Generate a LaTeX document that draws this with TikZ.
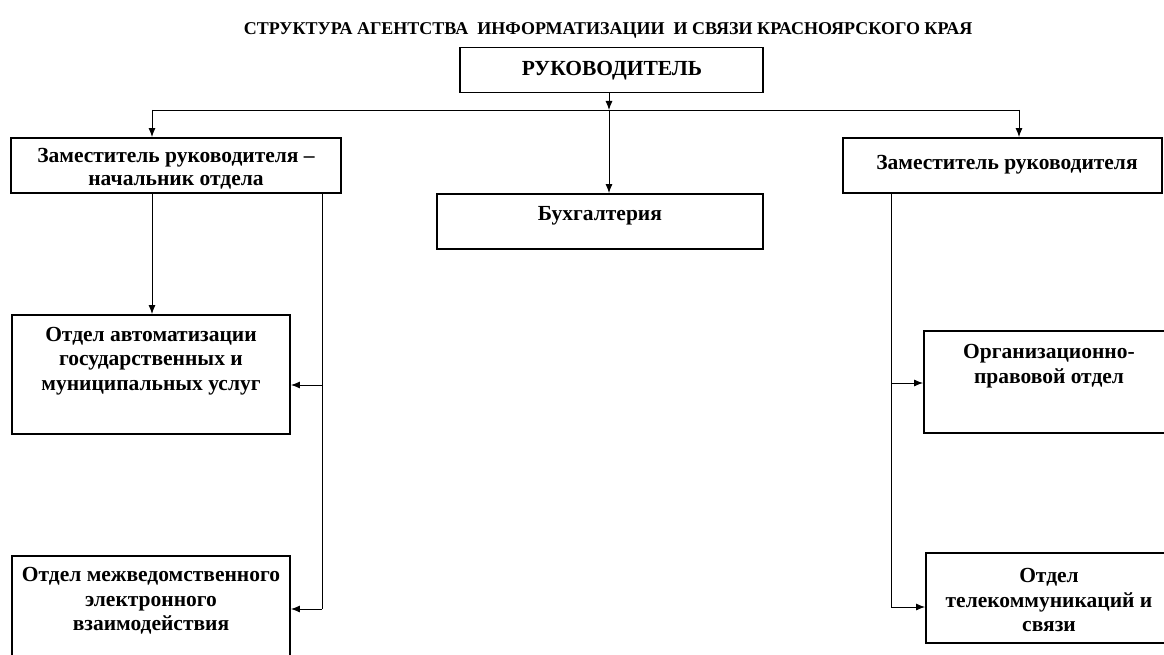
\documentclass[tikz,border=0pt]{standalone}
\usepackage{fontspec}
\setmainfont{Liberation Serif}
\usetikzlibrary{arrows.meta,calc}
\begin{document}
\begin{tikzpicture}[x=1pt,y=-1pt,
  box/.style={draw, line width=1.9pt, inner sep=0pt, rectangle},
  lbl/.style={align=center, font=\fontsize{21.5}{24.5}\selectfont\bfseries, inner sep=0pt},
  conn/.style={line width=0.9pt},
  arr/.style={conn, -{Latex[length=9pt,width=7pt]}}]
\useasboundingbox (0,0) rectangle (1164,655);
\clip (0,0) rectangle (1164,655);
% title
\node[font=\fontsize{18}{20}\selectfont\bfseries, inner sep=0pt] (title) at (608,30) {СТРУКТУРА АГЕНТСТВА \ ИНФОРМАТИЗАЦИИ \ И СВЯЗИ КРАСНОЯРСКОГО КРАЯ};
% boxes
\node[box, minimum width=303pt, minimum height=45pt] (boss) at (611.5,70) {};
\node[lbl] (bosst) at (612,71) {РУКОВОДИТЕЛЬ};
\node[box, minimum width=326pt, minimum height=55pt] (buh) at (600,221.5) {};
\node[lbl] (buht) at (600,216) {Бухгалтерия};
\node[box, minimum width=330pt, minimum height=55pt] (dl) at (176,165.5) {};
\node[lbl, font=\fontsize{21.5}{23.5}\selectfont\bfseries] (dlt) at (176,169) {Заместитель руководителя –\\начальник отдела};
\node[box, minimum width=319pt, minimum height=55pt] (dr) at (1002.5,165.5) {};
\node[lbl] (drt) at (1007,165) {Заместитель руководителя};
\node[box, minimum width=278pt, minimum height=119pt] (b1) at (151,374.5) {};
\node[lbl] (b1t) at (151,361) {Отдел автоматизации\\государственных и\\муниципальных услуг};
\node[box, minimum width=278pt, minimum height=124pt] (b2) at (151,618) {};
\node[lbl] (b2t) at (151,601) {Отдел межведомственного\\электронного\\взаимодействия};
\node[box, minimum width=244pt, minimum height=102pt] (b3) at (1046,382) {};
\node[lbl] (b3t) at (1049,366) {Организационно-\\правовой отдел};
\node[box, minimum width=242pt, minimum height=90pt] (b4) at (1047,598) {};
\node[lbl] (b4t) at (1049,600) {Отдел\\телекоммуникаций и\\связи};
% connector coordinates
\coordinate (hub) at (609,110);
\coordinate (hl) at (152,110);
\coordinate (hr) at (1019,110);
\coordinate (lbus) at (322,193);
\coordinate (rbus) at (891,193);
% connectors
\draw[arr] (boss.south -| hub) -- (hub);
\draw[conn] (hl) -- (hr);
\draw[arr] (hub) -- (hub |- buh.north);
\draw[arr] (hl) -- (hl |- dl.north);
\draw[arr] (hr) -- (hr |- dr.north);
\draw[arr] (dl.south -| hl) -- (hl |- b1.north);
\draw[conn] (lbus) -- (lbus |- 0,609);
\draw[arr] (lbus |- 0,385) -- (b1.east |- 0,385);
\draw[arr] (lbus |- 0,609) -- (b2.east |- 0,609);
\draw[conn] (rbus) -- (rbus |- 0,607);
\draw[arr] (rbus |- 0,383) -- (b3.west |- 0,383);
\draw[arr] (rbus |- 0,607) -- (b4.west |- 0,607);
\end{tikzpicture}
\end{document}
